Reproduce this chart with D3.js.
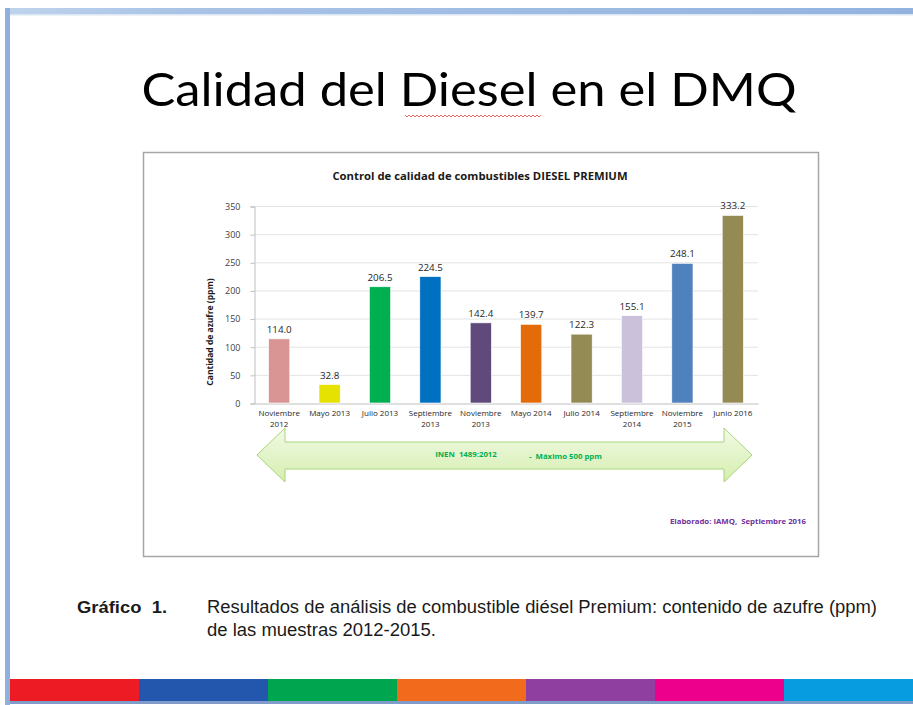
<!DOCTYPE html>
<html lang="es">
	<head>
		<meta charset="utf-8">
		<title>Calidad del Diesel en el DMQ</title>
		<script type="text/javascript" src="https://cdn.jsdelivr.net/npm/d3@7"></script>
		<style type="text/css">
			body { margin: 0; background: #fff; }
			svg { display: block; }
		</style>
	</head>

	<body>
		<script type="text/javascript">
			/* data */
			var categories = [ ["Noviembre", "2012"], ["Mayo 2013"], ["Julio 2013"], ["Septiembre", "2013"],
							   ["Noviembre", "2013"], ["Mayo 2014"], ["Julio 2014"], ["Septiembre", "2014"],
							   ["Noviembre", "2015"], ["Junio 2016"] ];
			var sulfur = [ 114.0, 32.8, 206.5, 224.5, 142.4, 139.7, 122.3, 155.1, 248.1, 333.2 ];
			var barColors = [ "#d99594", "#e5e100", "#00b050", "#0070c0", "#604a7b",
							  "#e36c09", "#948a54", "#ccc1da", "#4f81bd", "#948a54" ];
			var yTicks = [ 0, 50, 100, 150, 200, 250, 300, 350 ];
			var stripColors = [ "#ed1c24", "#2257ad", "#00a54f", "#f26a1b", "#8e3f9f", "#ec008c", "#079bdf" ];

			var svgWidth = 913;
			var svgHeight = 705;

			var svg = d3.select("body")
				.append("svg")
				.attr("width", svgWidth)
				.attr("height", svgHeight);

			var defs = svg.append("defs");
			var frameGrad = defs.append("linearGradient").attr("id", "frameGrad")
				.attr("x1", 0).attr("x2", 1).attr("y1", 0).attr("y2", 0);
			frameGrad.append("stop").attr("offset", "0%").attr("stop-color", "#bfd3ec");
			frameGrad.append("stop").attr("offset", "20%").attr("stop-color", "#a9c3e6");
			frameGrad.append("stop").attr("offset", "100%").attr("stop-color", "#93b3df");
			var arrowGrad = defs.append("linearGradient").attr("id", "arrowGrad")
				.attr("x1", 0).attr("x2", 0).attr("y1", 0).attr("y2", 1);
			arrowGrad.append("stop").attr("offset", "0%").attr("stop-color", "#f2fae6");
			arrowGrad.append("stop").attr("offset", "100%").attr("stop-color", "#d5eeae");

			/* slide frame */
			svg.append("rect").attr("x", 5).attr("y", 8).attr("width", 908).attr("height", 7)
				.attr("fill", "url(#frameGrad)");
			svg.append("rect").attr("x", 5).attr("y", 8).attr("width", 5).attr("height", 697)
				.attr("fill", "#8fafdc");
			svg.append("rect").attr("x", 10).attr("y", 14).attr("width", 903).attr("height", 1.5)
				.attr("fill", "#dbe6f4");

			/* slide title */
			svg.append("text")
				.attr("x", 469).attr("y", 106)
				.attr("text-anchor", "middle")
				.attr("font-family", "Lato, 'Open Sans', sans-serif")
				.attr("font-size", 47)
				.attr("textLength", 655).attr("lengthAdjust", "spacingAndGlyphs")
				.attr("fill", "#000")
				.text("Calidad del Diesel en el DMQ");
			// spell-check squiggle under "Diesel"
			var squiggle = [];
			for (var k = 0; k <= 68; k++) squiggle.push([405 + k * 2, k % 2 === 0 ? 115 : 117]);
			svg.append("path").attr("d", d3.line()(squiggle))
				.attr("fill", "none").attr("stroke", "#e0413a").attr("stroke-width", 0.8);

			/* chart box */
			svg.append("rect").attr("x", 143.5).attr("y", 152.5).attr("width", 675).attr("height", 404)
				.attr("fill", "#fff").attr("stroke", "#a6a6a6").attr("stroke-width", 1.5);

			svg.append("text")
				.attr("x", 480).attr("y", 180)
				.attr("text-anchor", "middle")
				.attr("font-family", "'Open Sans', sans-serif")
				.attr("font-size", 11.3).attr("font-weight", "bold")
				.attr("fill", "#1a1a1a")
				.text("Control de calidad de combustibles DIESEL PREMIUM");

			var plot = { left: 254, right: 758, top: 206, bottom: 403 };

			var xScale = d3.scaleBand()
				.domain(d3.range(categories.length))
				.range([plot.left, plot.right])
				.paddingInner(0.58).paddingOuter(0.29);
			var yScale = d3.scaleLinear()
				.domain([0, 350])
				.range([plot.bottom, plot.top]);

			/* gridlines */
			svg.append("g").selectAll("line")
				.data(yTicks.slice(1))
				.enter().append("line")
				.attr("x1", plot.left).attr("x2", plot.right)
				.attr("y1", function(d) { return yScale(d) + 0.5; })
				.attr("y2", function(d) { return yScale(d) + 0.5; })
				.attr("stroke", "#e3e3e3");

			/* y axis */
			var yAxis = svg.append("g")
				.attr("transform", "translate(" + (plot.left + 0.5) + ",0.5)")
				.call(d3.axisLeft(yScale).tickValues(yTicks).tickSize(4).tickPadding(10));
			yAxis.select(".domain").attr("stroke", "#bfbfbf");
			yAxis.selectAll(".tick line").attr("stroke", "#bfbfbf");
			yAxis.selectAll(".tick text")
				.attr("font-family", "'Open Sans', sans-serif")
				.attr("font-size", 9).attr("fill", "#404040");

			/* x axis */
			var xAxis = svg.append("g")
				.attr("transform", "translate(0," + (plot.bottom + 0.5) + ")")
				.call(d3.axisBottom(xScale).tickSize(0).tickFormat(""));
			xAxis.select(".domain").attr("stroke", "#bfbfbf");

			var catLabels = svg.append("g").selectAll("text")
				.data(categories)
				.enter().append("text")
				.attr("text-anchor", "middle")
				.attr("font-family", "'Open Sans', sans-serif")
				.attr("font-size", 8).attr("fill", "#262626")
				.attr("x", function(d, i) { return xScale(i) + xScale.bandwidth() / 2; })
				.attr("y", plot.bottom + 13);
			catLabels.selectAll("tspan")
				.data(function(d) { return d; })
				.enter().append("tspan")
				.attr("x", function() { return d3.select(this.parentNode).attr("x"); })
				.attr("dy", function(d, j) { return j === 0 ? 0 : 11; })
				.text(function(d) { return d; });

			/* bars */
			svg.append("g").selectAll("rect")
				.data(sulfur)
				.enter().append("rect")
				.attr("x", function(d, i) { return xScale(i); })
				.attr("y", function(d) { return yScale(d); })
				.attr("width", xScale.bandwidth())
				.attr("height", function(d) { return plot.bottom - yScale(d); })
				.attr("fill", function(d, i) { return barColors[i]; })
				.attr("stroke", "#fff").attr("stroke-width", 0.6);

			svg.append("g").selectAll("text")
				.data(sulfur)
				.enter().append("text")
				.attr("text-anchor", "middle")
				.attr("font-family", "'Open Sans', sans-serif")
				.attr("font-size", 9.8).attr("fill", "#262626")
				.attr("x", function(d, i) { return xScale(i) + xScale.bandwidth() / 2; })
				.attr("y", function(d) { return yScale(d) - 6; })
				.text(function(d) { return d.toFixed(1); });

			/* y axis title */
			svg.append("text")
				.attr("transform", "translate(213,332) rotate(-90)")
				.attr("text-anchor", "middle")
				.attr("font-family", "'Open Sans', sans-serif")
				.attr("font-size", 8.5).attr("font-weight", "bold")
				.attr("fill", "#1a1a1a")
				.text("Cantidad de azufre (ppm)");

			/* double arrow with the INEN limit */
			var arrowPts = [ [257, 455], [285, 428], [285, 442], [724, 442], [724, 428], [752, 455],
							 [724, 482], [724, 469], [285, 469], [285, 482] ];
			svg.append("path")
				.attr("d", d3.line()(arrowPts) + "Z")
				.attr("fill", "url(#arrowGrad)")
				.attr("stroke", "#a9d47c").attr("stroke-width", 1);
			svg.append("text")
				.attr("x", 466).attr("y", 457)
				.attr("text-anchor", "middle")
				.attr("font-family", "'Open Sans', sans-serif")
				.attr("font-size", 7.8).attr("font-weight", "bold")
				.attr("fill", "#00b050").attr("xml:space", "preserve")
				.text("INEN  1489:2012");
			svg.append("text")
				.attr("x", 529).attr("y", 459)
				.attr("font-family", "'Open Sans', sans-serif")
				.attr("font-size", 7.8).attr("font-weight", "bold")
				.attr("fill", "#00b050").attr("xml:space", "preserve")
				.text("-  Máximo 500 ppm");

			svg.append("text")
				.attr("x", 806).attr("y", 524)
				.attr("text-anchor", "end")
				.attr("font-family", "'Open Sans', sans-serif")
				.attr("font-size", 7.8).attr("font-weight", "bold")
				.attr("fill", "#7030a0").attr("xml:space", "preserve")
				.text("Elaborado: IAMQ,  Septiembre 2016");

			/* caption */
			svg.append("text")
				.attr("x", 77).attr("y", 613)
				.attr("font-family", "'Liberation Sans', Arial, sans-serif")
				.attr("font-size", 17).attr("font-weight", "bold")
				.attr("textLength", 90).attr("lengthAdjust", "spacingAndGlyphs")
				.attr("fill", "#1a1a1a").attr("xml:space", "preserve")
				.text("Gráfico  1.");
			var caption = svg.append("text")
				.attr("font-family", "'Liberation Sans', Arial, sans-serif")
				.attr("font-size", 17.5).attr("fill", "#1a1a1a");
			caption.append("tspan").attr("x", 207).attr("y", 613)
				.attr("textLength", 670).attr("lengthAdjust", "spacingAndGlyphs")
				.text("Resultados de análisis de combustible diésel Premium: contenido de azufre (ppm)");
			caption.append("tspan").attr("x", 207).attr("y", 636)
				.attr("textLength", 229).attr("lengthAdjust", "spacingAndGlyphs")
				.text("de las muestras 2012-2015.");

			/* colour strip at the bottom */
			var stripScale = d3.scaleBand().domain(d3.range(stripColors.length)).range([10, 913]);
			svg.append("rect").attr("x", 10).attr("y", 701).attr("width", 903).attr("height", 3)
				.attr("fill", "#7f9ccb");
			svg.append("g").selectAll("rect")
				.data(stripColors)
				.enter().append("rect")
				.attr("x", function(d, i) { return stripScale(i); })
				.attr("y", 679)
				.attr("width", stripScale.bandwidth() + 0.5)
				.attr("height", 22)
				.attr("fill", function(d) { return d; });
		</script>
	</body>
</html>
